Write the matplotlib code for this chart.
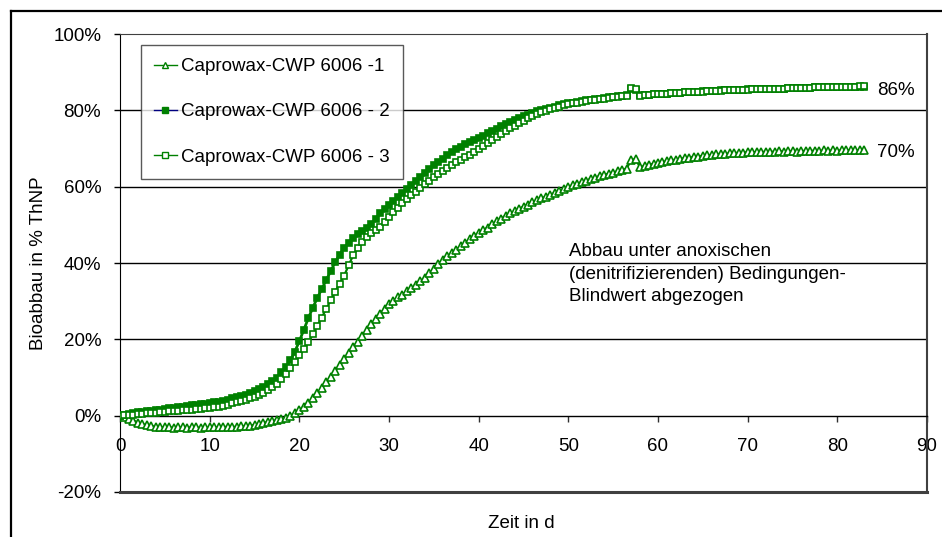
import numpy as np
import matplotlib
matplotlib.use("Agg")
import matplotlib.pyplot as plt
from matplotlib.lines import Line2D

plt.rcParams['font.family'] = ['Liberation Sans', 'DejaVu Sans']

# Zeit in Tagen (Messpunkte alle 0,5 d)
days = np.arange(0, 83.5, 0.5)

# Caprowax-CWP 6006 -1 (Dreiecke)
abbau_1 = [
    0.0, -0.3, -0.8, -1.3, -1.8, -2.2, -2.5, -2.7, -2.9, -3.0,
    -3.1, -3.0, -3.2, -3.1, -3.1, -3.2, -3.0, -3.1, -3.2, -3.1,
    -3.1, -3.0, -3.1, -3.0, -2.9, -3.0, -2.9, -2.8, -2.8, -2.6,
    -2.4, -2.2, -1.9, -1.7, -1.4, -1.2, -0.9, -0.5, 0.0, 0.7,
    1.5, 2.4, 3.4, 4.6, 5.9, 7.2, 8.7, 10.2, 11.8, 13.3,
    14.8, 16.3, 17.9, 19.4, 20.9, 22.4, 23.9, 25.3, 26.7, 28.0,
    29.2, 30.1, 31.0, 31.7, 32.6, 33.4, 34.3, 35.2, 36.2, 37.3,
    38.5, 39.8, 40.9, 41.8, 42.7, 43.5, 44.4, 45.3, 46.2, 47.1,
    47.9, 48.6, 49.3, 50.1, 50.9, 51.6, 52.4, 53.0, 53.6, 54.2,
    54.8, 55.3, 55.9, 56.4, 56.9, 57.4, 57.9, 58.4, 58.9, 59.4,
    59.9, 60.4, 60.8, 61.2, 61.6, 62.0, 62.4, 62.8, 63.1, 63.4,
    63.7, 64.0, 64.4, 64.7, 67.0, 67.2, 65.1, 65.4, 65.7, 66.0,
    66.2, 66.4, 66.7, 66.9, 67.1, 67.3, 67.5, 67.6, 67.8, 67.9,
    68.1, 68.2, 68.3, 68.5, 68.6, 68.6, 68.7, 68.8, 68.9, 68.9,
    69.0, 69.0, 69.1, 69.0, 69.2, 69.1, 69.2, 69.3, 69.2, 69.3,
    69.3, 69.2, 69.4, 69.3, 69.4, 69.4, 69.3, 69.5, 69.4, 69.5,
    69.4, 69.5, 69.6, 69.5, 69.5, 69.6, 69.6,
]

# Caprowax-CWP 6006 - 2 (gefuellte Quadrate)
abbau_2 = [
    0.0, 0.3, 0.5, 0.7, 0.9, 1.0, 1.2, 1.3, 1.5, 1.6,
    1.8, 1.9, 2.1, 2.2, 2.4, 2.5, 2.7, 2.8, 3.0, 3.1,
    3.3, 3.5, 3.7, 3.9, 4.2, 4.5, 4.8, 5.1, 5.5, 5.9,
    6.4, 6.9, 7.5, 8.2, 9.0, 10.0, 11.4, 12.8, 14.5, 16.8,
    19.5, 22.5, 25.5, 28.3, 30.8, 33.2, 35.5, 37.9, 40.2, 42.2,
    44.0, 45.3, 46.5, 47.5, 48.4, 49.3, 50.3, 51.6, 53.0, 54.1,
    55.2, 56.3, 57.3, 58.3, 59.3, 60.4, 61.4, 62.5, 63.5, 64.6,
    65.6, 66.5, 67.3, 68.2, 69.0, 69.8, 70.5, 71.1, 71.6, 72.2,
    72.8, 73.4, 74.0, 74.6, 75.2, 75.9, 76.5, 77.0, 77.5, 78.0,
    78.4, 78.9, 79.3, 79.7, 80.1, 80.4, 80.7, 81.0, 81.3, 81.6,
    81.8, 82.0, 82.2, 82.4, 82.6, 82.8, 83.0, 83.1, 83.3, 83.4,
    83.6, 83.7, 83.8, 83.9, 85.6, 85.4, 83.9, 84.0, 84.1, 84.2,
    84.3, 84.4, 84.4, 84.5, 84.6, 84.6, 84.7, 84.8, 84.8, 84.9,
    85.0, 85.0, 85.1, 85.1, 85.2, 85.2, 85.3, 85.3, 85.4, 85.4,
    85.5, 85.5, 85.5, 85.6, 85.6, 85.6, 85.7, 85.7, 85.7, 85.8,
    85.8, 85.8, 85.9, 85.9, 85.9, 86.0, 86.0, 86.0, 86.0, 86.1,
    86.1, 86.1, 86.1, 86.2, 86.2, 86.2, 86.2,
]

# Caprowax-CWP 6006 - 3 (offene Quadrate)
abbau_3 = [
    0.0, 0.1, 0.2, 0.3, 0.4, 0.5, 0.6, 0.7, 0.8, 0.9,
    1.0, 1.1, 1.2, 1.3, 1.4, 1.5, 1.6, 1.7, 1.8, 1.9,
    2.0, 2.2, 2.4, 2.6, 2.9, 3.2, 3.5, 3.8, 4.2, 4.6,
    5.0, 5.5, 6.0, 6.7, 7.5, 8.4, 9.5, 10.9, 12.5, 14.1,
    15.8, 17.5, 19.2, 21.3, 23.5, 25.7, 28.0, 30.2, 32.5, 34.6,
    36.7, 39.4, 42.0, 43.8, 45.5, 46.7, 47.8, 48.7, 49.5, 50.8,
    52.0, 53.3, 54.5, 55.6, 56.7, 57.7, 58.7, 59.7, 60.6, 61.6,
    62.5, 63.4, 64.2, 65.0, 65.7, 66.4, 67.1, 67.8, 68.4, 69.2,
    69.9, 70.7, 71.4, 72.2, 73.0, 73.8, 74.6, 75.3, 76.0, 76.7,
    77.3, 77.9, 78.5, 79.0, 79.5, 79.9, 80.3, 80.7, 81.0, 81.3,
    81.6, 81.8, 82.0, 82.2, 82.4, 82.6, 82.8, 82.9, 83.1, 83.3,
    83.4, 83.6, 83.7, 83.8, 85.9, 85.7, 83.8, 84.0, 84.1, 84.2,
    84.3, 84.3, 84.4, 84.5, 84.5, 84.6, 84.7, 84.7, 84.8, 84.9,
    84.9, 85.0, 85.0, 85.1, 85.1, 85.2, 85.2, 85.3, 85.3, 85.4,
    85.4, 85.5, 85.5, 85.5, 85.6, 85.6, 85.7, 85.7, 85.7, 85.8,
    85.8, 85.8, 85.9, 85.9, 85.9, 86.0, 86.0, 86.0, 86.1, 86.1,
    86.1, 86.1, 86.2, 86.2, 86.2, 86.3, 86.3,
]

labels = ["Caprowax-CWP 6006 -1", "Caprowax-CWP 6006 - 2", "Caprowax-CWP 6006 - 3"]
end_labels = ["70%", "86%"]
end_values = [68.9, 85.3]

green = "#008000"
navy = "#000080"
fs = 13.5

fig = plt.figure(figsize=(9.42, 5.37), dpi=100)
ax = fig.add_axes([120 / 942, 1 - 492 / 537, 807 / 942, 458 / 537])

ax.plot(days, abbau_1, color=green, lw=1.6, marker="^", ms=5.5, mfc="white",
        mec=green, mew=1.2, zorder=3)
ax.plot(days, abbau_2, color=green, lw=2, marker="s", ms=5, mfc=green,
        mec=green, mew=1.2, zorder=4)
ax.plot(days, abbau_3, color=green, lw=1.6, marker="s", ms=5, mfc="white",
        mec=green, mew=1.2, zorder=5)

ax.set_xlim(0, 90)
ax.set_ylim(-20, 100)
ax.set_xticks(range(0, 91, 10))
ax.set_yticks(range(-20, 101, 20))
ax.set_yticklabels([f"{v}%" for v in range(-20, 101, 20)])

for v in (20, 40, 60, 80):
    ax.axhline(v, color="black", lw=1, zorder=1)

# x-Achse liegt bei 0 %
ax.spines["bottom"].set_position(("data", 0))
ax.spines["bottom"].set_color("black")
ax.spines["bottom"].set_linewidth(1)
ax.spines["left"].set_color("black")
ax.spines["top"].set_color("#404040")
ax.spines["right"].set_color("#404040")
ax.spines["right"].set_linewidth(1.5)
ax.axhline(-20, color="#404040", lw=2.2, clip_on=False, zorder=6)

ax.tick_params(axis="x", direction="out", length=4.5, width=1, pad=11.5,
               labelsize=fs, color="#303030")
ax.tick_params(axis="y", direction="out", length=4.5, width=1, pad=9,
               labelsize=fs)

ax.set_xlabel("Zeit in d", fontsize=fs)
ax.xaxis.set_label_coords(0.497, -0.05)
ax.set_ylabel("Bioabbau in % ThNP", fontsize=fs)
ax.yaxis.set_label_coords(-0.09, 0.5)

ax.text(50.1, 45.3, "Abbau unter anoxischen\n(denitrifizierenden) Bedingungen-\nBlindwert abgezogen",
        fontsize=fs, va="top", ha="left", linespacing=1.45)

for txt, v in zip(end_labels, end_values):
    ax.text(84.4, v, txt, fontsize=fs, va="center", ha="left")

handles = [
    Line2D([], [], color=green, lw=1, marker="^", ms=5, mfc="white", mec=green),
    Line2D([], [], color=navy, lw=1, marker="s", ms=4, mfc=green, mec=green),
    Line2D([], [], color=green, lw=1, marker="s", ms=4, mfc="white", mec=green),
]
leg = ax.legend(handles, labels, loc="upper left",
                bbox_to_anchor=(141 / 942, 1 - 45 / 537),
                bbox_transform=fig.transFigure, fontsize=fs, frameon=True,
                fancybox=False, edgecolor="#303030", borderaxespad=0,
                handlelength=1.2, handletextpad=0.25, labelspacing=1.5,
                borderpad=0.7)
leg.get_frame().set_linewidth(1)
leg.set_zorder(10)

# Rahmen des Diagrammbereichs
fig.add_artist(Line2D([11 / 942, 11 / 942], [0, 1 - 11 / 537], color="black", lw=1.6,
                      transform=fig.transFigure))
fig.add_artist(Line2D([11 / 942, 1], [1 - 11 / 537, 1 - 11 / 537], color="black", lw=1.6,
                      transform=fig.transFigure))

fig.savefig("out.png", dpi=100)
